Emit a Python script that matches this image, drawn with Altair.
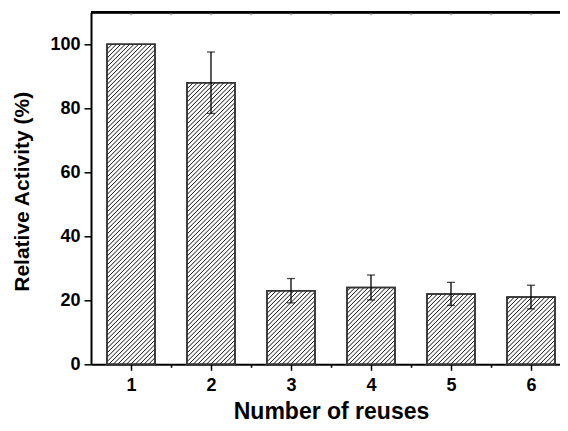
import altair as alt
import pandas as pd
import numpy as np

# ---- data ----
reuses = [1, 2, 3, 4, 5, 6]
activity = [100, 88, 23, 24, 22, 21]
error = [0, 9.6, 3.8, 3.9, 3.6, 3.7]

BAR_HALF = 0.3
PX_PER_X = 80.0      # pixels per x unit
PX_PER_Y = 3.2       # pixels per y unit (352 px for 110 units)
W, H = 469, 352
X_DOM = [0.5, 0.5 + W / PX_PER_X]

df = pd.DataFrame({"n": reuses, "v": activity, "e": error})
df["x0"] = df["n"] - BAR_HALF
df["x1"] = df["n"] + BAR_HALF
df["lo"] = df["v"] - df["e"]
df["hi"] = df["v"] + df["e"]
err_df = df[df["e"] > 0]

# hatch segments (45 deg in pixel space) built from bar values
rows = []
step = 4.4
bw = 2 * BAR_HALF * PX_PER_X
for n, v in zip(reuses, activity):
    bh = v * PX_PER_Y
    c = -bw + step / 2
    while c < bh:
        xa = max(0.0, -c)
        xb = min(bw, bh - c)
        if xb > xa:
            rows.append({
                "hx": n - BAR_HALF + xa / PX_PER_X,
                "hx2": n - BAR_HALF + xb / PX_PER_X,
                "hy": (xa + c) / PX_PER_Y,
                "hy2": (xb + c) / PX_PER_Y,
            })
        c += step
hatch = pd.DataFrame(rows)

ticks_top = pd.DataFrame({"t": [1 + 0.5 * i for i in range(11)]})

FONT = "Liberation Sans"

x_scale = alt.Scale(domain=X_DOM, nice=False, zero=False)
y_scale = alt.Scale(domain=[0, 110], nice=False)

x_axis = alt.Axis(
    values=[1 + 0.5 * i for i in range(11)],
    labelExpr="datum.value % 1 === 0 ? format(datum.value, 'd') : ''",
    title="Number of reuses",
    titleFont=FONT, titleFontSize=23, titleFontWeight="bold", titleColor="black",
    titleBaseline="alphabetic", titleY=54, titleX=240, titleAlign="center",
    labelFont=FONT, labelFontSize=18, labelFontWeight="bold", labelColor="black",
    labelPadding=6, labelFlush=False,
    tickSize={"condition": {"test": "datum.value % 1 === 0", "value": 6}, "value": 3},
    tickColor="black", tickWidth=1.5,
    domainColor="black", domainWidth=2,
    grid=False,
)
y_axis = alt.Axis(
    values=list(range(0, 101, 10)),
    labelExpr="datum.value % 20 === 0 ? datum.label : ''",
    title="Relative Activity (%)",
    titleFont=FONT, titleFontSize=21, titleFontWeight="bold", titleColor="black",
    titleBaseline="alphabetic", titleX=-63, titleY=179, titleAlign="center", titleAngle=270,
    labelFont=FONT, labelFontSize=18, labelFontWeight="bold", labelColor="black",
    labelPadding=4, labelFlush=False,
    tickSize={"condition": {"test": "datum.value % 20 === 0", "value": 7}, "value": 4},
    tickColor="black", tickWidth=1.5,
    domainColor="black", domainWidth=2,
    grid=False,
)

bars = alt.Chart(df).mark_rect(fill="white", stroke="#333333", strokeWidth=1.5).encode(
    x=alt.X("x0:Q", scale=x_scale, axis=x_axis),
    x2="x1:Q",
    y=alt.Y("v:Q", scale=y_scale, axis=y_axis),
    y2=alt.datum(0),
)

hatch_lines = alt.Chart(hatch).mark_rule(color="#111111", strokeWidth=1).encode(
    x=alt.X("hx:Q", scale=x_scale),
    x2="hx2:Q",
    y=alt.Y("hy:Q", scale=y_scale),
    y2="hy2:Q",
)

outline = alt.Chart(df).mark_rect(fill=None, stroke="#333333", strokeWidth=1.5).encode(
    x=alt.X("x0:Q", scale=x_scale),
    x2="x1:Q",
    y=alt.Y("v:Q", scale=y_scale),
    y2=alt.datum(0),
)

err_rule = alt.Chart(err_df).mark_rule(color="black", strokeWidth=1.3).encode(
    x=alt.X("n:Q", scale=x_scale),
    y=alt.Y("lo:Q", scale=y_scale),
    y2="hi:Q",
)
cap_hi = alt.Chart(err_df).mark_tick(color="black", orient="horizontal", size=8, thickness=1.3).encode(
    x=alt.X("n:Q", scale=x_scale),
    y=alt.Y("hi:Q", scale=y_scale),
)
cap_lo = alt.Chart(err_df).mark_tick(color="black", orient="horizontal", size=8, thickness=1.3).encode(
    x=alt.X("n:Q", scale=x_scale),
    y=alt.Y("lo:Q", scale=y_scale),
)

top_line = alt.Chart(df).mark_rule(color="black", strokeWidth=2).encode(
    x=alt.value(0), x2=alt.value(W), y=alt.value(0)
)
top_ticks = alt.Chart(ticks_top).mark_rule(color="#888888", strokeWidth=1).encode(
    x=alt.X("t:Q", scale=x_scale), y=alt.value(1), y2=alt.value(3)
)

chart = alt.layer(
    bars, hatch_lines, outline, err_rule, cap_hi, cap_lo, top_line, top_ticks
).properties(
    width=W, height=H,
    autosize=alt.AutoSizeParams(type="none"),
    padding={"left": 83, "top": 4.3, "right": 0, "bottom": 58.7},
    background="white",
).configure_view(stroke=None)

chart.save("out.html", embed_options={"renderer": "svg", "actions": False})
